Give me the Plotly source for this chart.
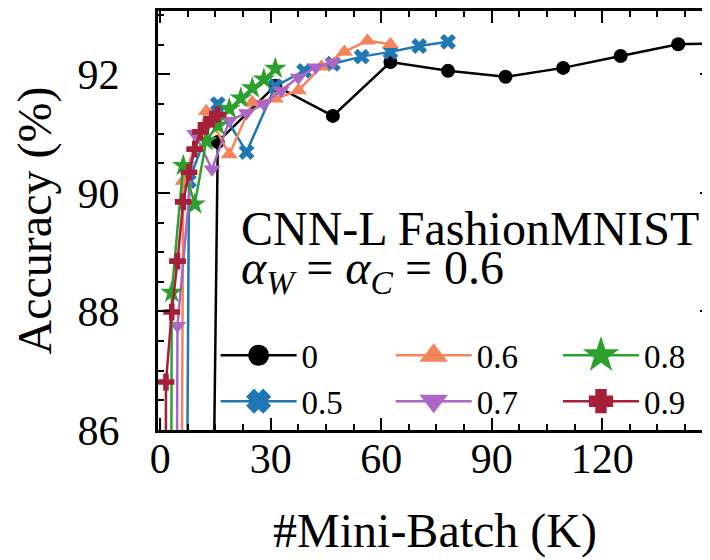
import plotly.graph_objects as go

# ---- data ----
labels = ["0", "0.5", "0.6", "0.7", "0.8", "0.9"]

x_0 = [0, 15.63, 31.25, 46.88, 62.5, 78.13, 93.75, 109.38, 125.0, 140.63, 156.25]
y_0 = [10.0, 90.86, 91.81, 91.30, 92.21, 92.06, 91.96, 92.11, 92.31, 92.51, 92.53]

x_05 = [0, 7.81, 15.63, 23.44, 31.25, 39.06, 46.88, 54.69, 62.5, 70.31, 78.13]
y_05 = [10.0, 90.20, 91.50, 90.69, 91.80, 92.06, 92.18, 92.30, 92.38, 92.48, 92.55]

x_06 = [0, 6.25, 12.5, 18.75, 25.0, 31.25, 37.5, 43.75, 50.0, 56.25, 62.5]
y_06 = [10.0, 90.20, 91.38, 90.65, 91.53, 91.59, 91.73, 92.13, 92.38, 92.57, 92.51]

x_07 = [0, 4.69, 9.38, 14.06, 18.75, 23.44, 28.13, 32.81, 37.5, 42.19, 46.88]
y_07 = [10.0, 87.76, 91.00, 90.40, 91.22, 91.35, 91.50, 91.73, 91.95, 92.12, 92.20]

x_08 = [0, 3.13, 6.25, 9.38, 12.5, 15.63, 18.75, 21.88, 25.0, 28.13, 31.25]
y_08 = [10.0, 88.32, 90.46, 89.81, 90.88, 91.14, 91.42, 91.60, 91.77, 91.92, 92.10]

x_09 = [0, 1.56, 3.13, 4.69, 6.25, 7.81, 9.38, 10.94, 12.5, 14.06, 15.63]
y_09 = [10.0, 86.81, 87.99, 88.85, 89.85, 90.35, 90.74, 91.03, 91.15, 91.25, 91.32]

x_ticks = [0, 30, 60, 90, 120]
y_ticks = [86, 88, 90, 92]

# ---- styles ----
colors = ["#000000", "#1F77B4", "#F5845A", "#AC66C6", "#2CA02C", "#A51F38"]
symbols = ["circle", "x", "triangle-up", "triangle-down", "star", "cross"]
sizes = [14, 14, 15, 15, 17, 14]
legend_ids = ["legend", "legend", "legend2", "legend2", "legend3", "legend3"]

series = [(x_0, y_0), (x_05, y_05), (x_06, y_06), (x_07, y_07), (x_08, y_08), (x_09, y_09)]

FONT = "Liberation Serif"
fig = go.Figure()

for (xs, ys), lab, c, s, sz, lg in zip(series, labels, colors, symbols, sizes, legend_ids):
    fig.add_trace(go.Scatter(
        x=xs, y=ys, mode="lines+markers", name=lab,
        line=dict(color=c, width=2.5),
        marker=dict(color=c, symbol=s, size=sz, line=dict(width=0)),
        showlegend=False,
    ))
    # legend-only entry (no data) with a larger symbol, as in the reference legend
    fig.add_trace(go.Scatter(
        x=[None], y=[None], mode="lines+markers", name=lab,
        line=dict(color=c, width=2.5),
        marker=dict(color=c, symbol=s, size=30, line=dict(width=5, color=c)),
        legend=lg, showlegend=True,
    ))

# empty trace on the right-side axis so its inward ticks are drawn
fig.add_trace(go.Scatter(x=[None], y=[None], yaxis="y2", showlegend=False, hoverinfo="skip"))

axis_common = dict(
    ticks="inside", tickwidth=2, ticklen=12, tickcolor="black",
    showgrid=False, zeroline=False, automargin=False,
    tickfont=dict(family=FONT, size=42, color="black"),
)

legend_common = dict(y=0.245, xanchor="left", yanchor="top", bgcolor="rgba(0,0,0,0)",
                     font=dict(family=FONT, size=33), itemwidth=76, tracegroupgap=0)

fig.update_layout(
    width=710, height=560,
    margin=dict(l=150, r=6, t=3, b=138, autoexpand=False),
    paper_bgcolor="white", plot_bgcolor="white",
    font=dict(family=FONT, color="black"),
    xaxis=dict(
        range=[-0.6, 149.8], tickvals=x_ticks, ticktext=[str(v) for v in x_ticks],
        showline=True, linewidth=3, linecolor="black", mirror="ticks",
        minor=dict(dtick=7.5, tick0=0, ticks="inside", ticklen=6, tickwidth=2, tickcolor="black"),
        ticklabelstandoff=-10,
        title=dict(text="#Mini-Batch (K)", font=dict(family=FONT, size=48), standoff=32),
        **axis_common,
    ),
    yaxis=dict(
        range=[86, 93.07], tickvals=y_ticks, ticktext=[str(v) for v in y_ticks],
        showline=True, linewidth=3, linecolor="black", mirror=False,
        minor=dict(dtick=0.5, tick0=86, ticks="inside", ticklen=6, tickwidth=2, tickcolor="black"),
        ticklabelstandoff=27,
        title=dict(text="Accuracy (%)", font=dict(family=FONT, size=48), standoff=22),
        **axis_common,
    ),
    yaxis2=dict(
        range=[86, 93.07], tickvals=y_ticks, overlaying="y", side="right",
        showticklabels=False, showline=False,
        minor=dict(dtick=0.5, tick0=86, ticks="inside", ticklen=6, tickwidth=2, tickcolor="black"),
        **axis_common,
    ),
    legend=dict(x=0.104, **legend_common),
    legend2=dict(x=0.420, **legend_common),
    legend3=dict(x=0.722, **legend_common),
    annotations=[
        dict(text="CNN-L FashionMNIST", xref="paper", yref="paper", x=0.147, y=0.482,
             xanchor="left", yanchor="middle", showarrow=False,
             font=dict(family=FONT, size=48, color="black")),
        dict(text="<i>α</i><sub><i>W</i></sub> = <i>α</i><sub><i>C</i></sub> = 0.6",
             xref="paper", yref="paper", x=0.147, y=0.38,
             xanchor="left", yanchor="middle", showarrow=False,
             font=dict(family=FONT, size=48, color="black")),
    ],
)

fig.write_html("out.html")
